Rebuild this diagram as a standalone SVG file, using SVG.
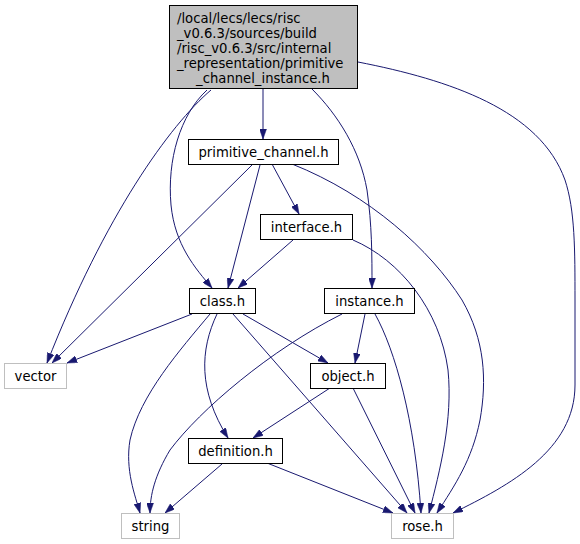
<svg xmlns="http://www.w3.org/2000/svg" width="580" height="544" viewBox="0 0 580 544">
<style>
text{font-family:"DejaVu Sans","Liberation Sans",sans-serif;font-size:13.2px;fill:#000}
.n rect{fill:#fff;stroke:#000;stroke-width:1}
.n.root rect{fill:#bfbfbf}
.n.ext rect{stroke:#bfbfbf}
.c path{fill:none;stroke:#191970;stroke-width:1;marker-end:url(#ah)}
.m{text-anchor:middle}
</style>
<defs>
<marker id="ah" viewBox="0 0 10 7" refX="10" refY="3.5" markerWidth="10" markerHeight="7" markerUnits="userSpaceOnUse" orient="auto">
<polygon points="0,0 10,3.5 0,7" fill="#191970" stroke="#191970" stroke-width="0.5"/>
</marker>
</defs>
<rect width="580" height="544" fill="#fff"/>
<g id="connectors" class="c">
<path d="M263,89 L263,139"/>
<path d="M211,90 C170,125 105,215 47,363"/>
<path d="M207,90 C180,115 167,160 171,205 C175,245 195,268 212,288"/>
<path d="M312,89 C338,115 360,150 367,190 C372,225 372,255 372,288"/>
<path d="M358,62 C450,80 540,110 565,180 C575,210 575,250 575,300 L575,385 C575,450 510,485 453,513"/>
<path d="M272,164 L299,214"/>
<path d="M260,165 L228,288"/>
<path d="M252,165 L52,363"/>
<path d="M292,164 C370,195 430,250 462,300 C485,340 487,380 480,420 C472,460 455,485 437,513"/>
<path d="M293,240 L238,288"/>
<path d="M353,240 C400,260 440,310 448,370 C453,420 440,470 429,513"/>
<path d="M192,314 L67,363"/>
<path d="M210,314 C180,350 140,395 130,440 C125,470 135,495 140,513"/>
<path d="M217,314 C200,350 198,390 228,438"/>
<path d="M243,314 L328,363"/>
<path d="M233,314 L407,513"/>
<path d="M365,314 L355,363"/>
<path d="M342,314 C270,350 200,410 170,450 C155,475 150,495 150,513"/>
<path d="M375,314 C395,350 415,420 421,513"/>
<path d="M330,388 L253,438"/>
<path d="M353,388 L415,513"/>
<path d="M222,464 L165,513"/>
<path d="M267,463 L393,513"/>
</g>
<g id="root" class="n root">
<rect x="169.5" y="5.5" width="188" height="83"/>
<text x="177" y="23">/local/lecs/lecs/risc</text>
<text x="177" y="38">_v0.6.3/sources/build</text>
<text x="177" y="53">/risc_v0.6.3/src/internal</text>
<text x="177" y="68">_representation/primitive</text>
<text x="263" y="83" class="m">_channel_instance.h</text>
</g>
<g id="primitive_channel" class="n">
<rect x="188.5" y="139.5" width="150" height="25"/>
<text x="263.5" y="156.5" class="m">primitive_channel.h</text>
</g>
<g id="interface" class="n">
<rect x="260.5" y="214.5" width="92" height="25"/>
<text x="306.5" y="231.5" class="m">interface.h</text>
</g>
<g id="class" class="n">
<rect x="189.5" y="288.5" width="66" height="25"/>
<text x="222.5" y="305.5" class="m">class.h</text>
</g>
<g id="instance" class="n">
<rect x="324.5" y="288.5" width="90" height="25"/>
<text x="369.5" y="305.5" class="m">instance.h</text>
</g>
<g id="vector" class="n ext">
<rect x="4.5" y="363.5" width="62" height="25"/>
<text x="35.5" y="380.5" class="m">vector</text>
</g>
<g id="object" class="n">
<rect x="310.5" y="363.5" width="75" height="25"/>
<text x="348" y="380.5" class="m">object.h</text>
</g>
<g id="definition" class="n">
<rect x="188.5" y="438.5" width="94" height="25"/>
<text x="235.5" y="455.5" class="m">definition.h</text>
</g>
<g id="string" class="n ext">
<rect x="121.5" y="513.5" width="58" height="25"/>
<text x="150.5" y="530.5" class="m">string</text>
</g>
<g id="rose" class="n ext">
<rect x="391.5" y="513.5" width="62" height="25"/>
<text x="422.5" y="530.5" class="m">rose.h</text>
</g>
</svg>
